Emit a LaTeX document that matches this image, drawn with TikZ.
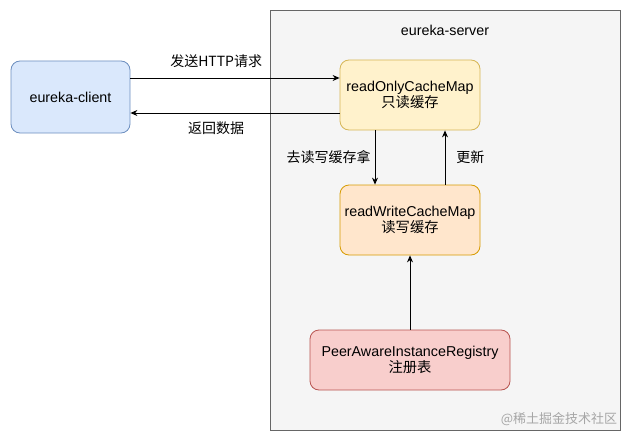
\documentclass[tikz,border=0pt]{standalone}
\usepackage{fontspec}
\setmainfont{Liberation Sans}
\newfontfamily\cjk{Noto Sans CJK SC}
\usetikzlibrary{arrows.meta}
\definecolor{contfill}{HTML}{F5F5F5}
\definecolor{contline}{HTML}{666666}
\definecolor{bluefill}{HTML}{DAE8FC}
\definecolor{blueline}{HTML}{6C8EBF}
\definecolor{yelfill}{HTML}{FFF2CC}
\definecolor{yelline}{HTML}{D6B656}
\definecolor{orfill}{HTML}{FFE6CC}
\definecolor{orline}{HTML}{D79B00}
\definecolor{redfill}{HTML}{F8CECC}
\definecolor{redline}{HTML}{B85450}
\begin{document}
\begin{tikzpicture}[x=1pt,y=-1pt,
  every node/.style={font=\fontsize{14.3}{16.5}\selectfont, inner sep=0pt, align=center},
  box/.style={draw, rounded corners=9pt, line width=0.8pt},
  arr/.style={-{Stealth[length=7pt,width=6pt]}, line width=0.9pt},
  lbl/.style={font=\cjk\fontsize{14}{16}\selectfont}]
\useasboundingbox (0,0) rectangle (631,441);
\node[draw=contline, fill=contfill, line width=0.8pt, minimum width=350pt, minimum height=420pt, anchor=north west] (server) at (270,10) {};
\node (title) at (445,30) {eureka-server};
\node[box, fill=bluefill, draw=blueline, minimum width=119pt, minimum height=72pt] (client) at (70.5,97) {eureka-client};
\node[box, fill=yelfill, draw=yelline, minimum width=140pt, minimum height=70pt] (ro) at (410,95) {readOnlyCacheMap\\{\cjk 只读缓存}};
\node[box, fill=orfill, draw=orline, minimum width=140pt, minimum height=70pt] (rw) at (410,220) {readWriteCacheMap\\{\cjk 读写缓存}};
\node[box, fill=redfill, draw=redline, minimum width=200pt, minimum height=60pt] (reg) at (410,360) {PeerAwareInstanceRegistry\\{\cjk 注册表}};
\draw[arr] (client.east |- 0,78) -- (ro.west |- 0,78) node[pos=0.41, above=10pt, lbl] (l1) {发送HTTP请求};
\draw[arr] (ro.west |- 0,113) -- (client.east |- 0,113) node[pos=0.59, below=8pt, lbl] (l2) {返回数据};
\draw[arr] (ro.south -| 375,0) -- (rw.north -| 375,0) node[midway, left=4pt, lbl] (l3) {去读写缓存拿};
\draw[arr] (rw.north -| 445,0) -- (ro.south -| 445,0) node[midway, right=11pt, lbl] (l4) {更新};
\draw[arr] (reg.north) -- (rw.south);
\node[font=\cjk\fontsize{13}{15}\selectfont, text=black!35] (wm) at (559,419) {@稀土掘金技术社区};
\end{tikzpicture}
\end{document}
